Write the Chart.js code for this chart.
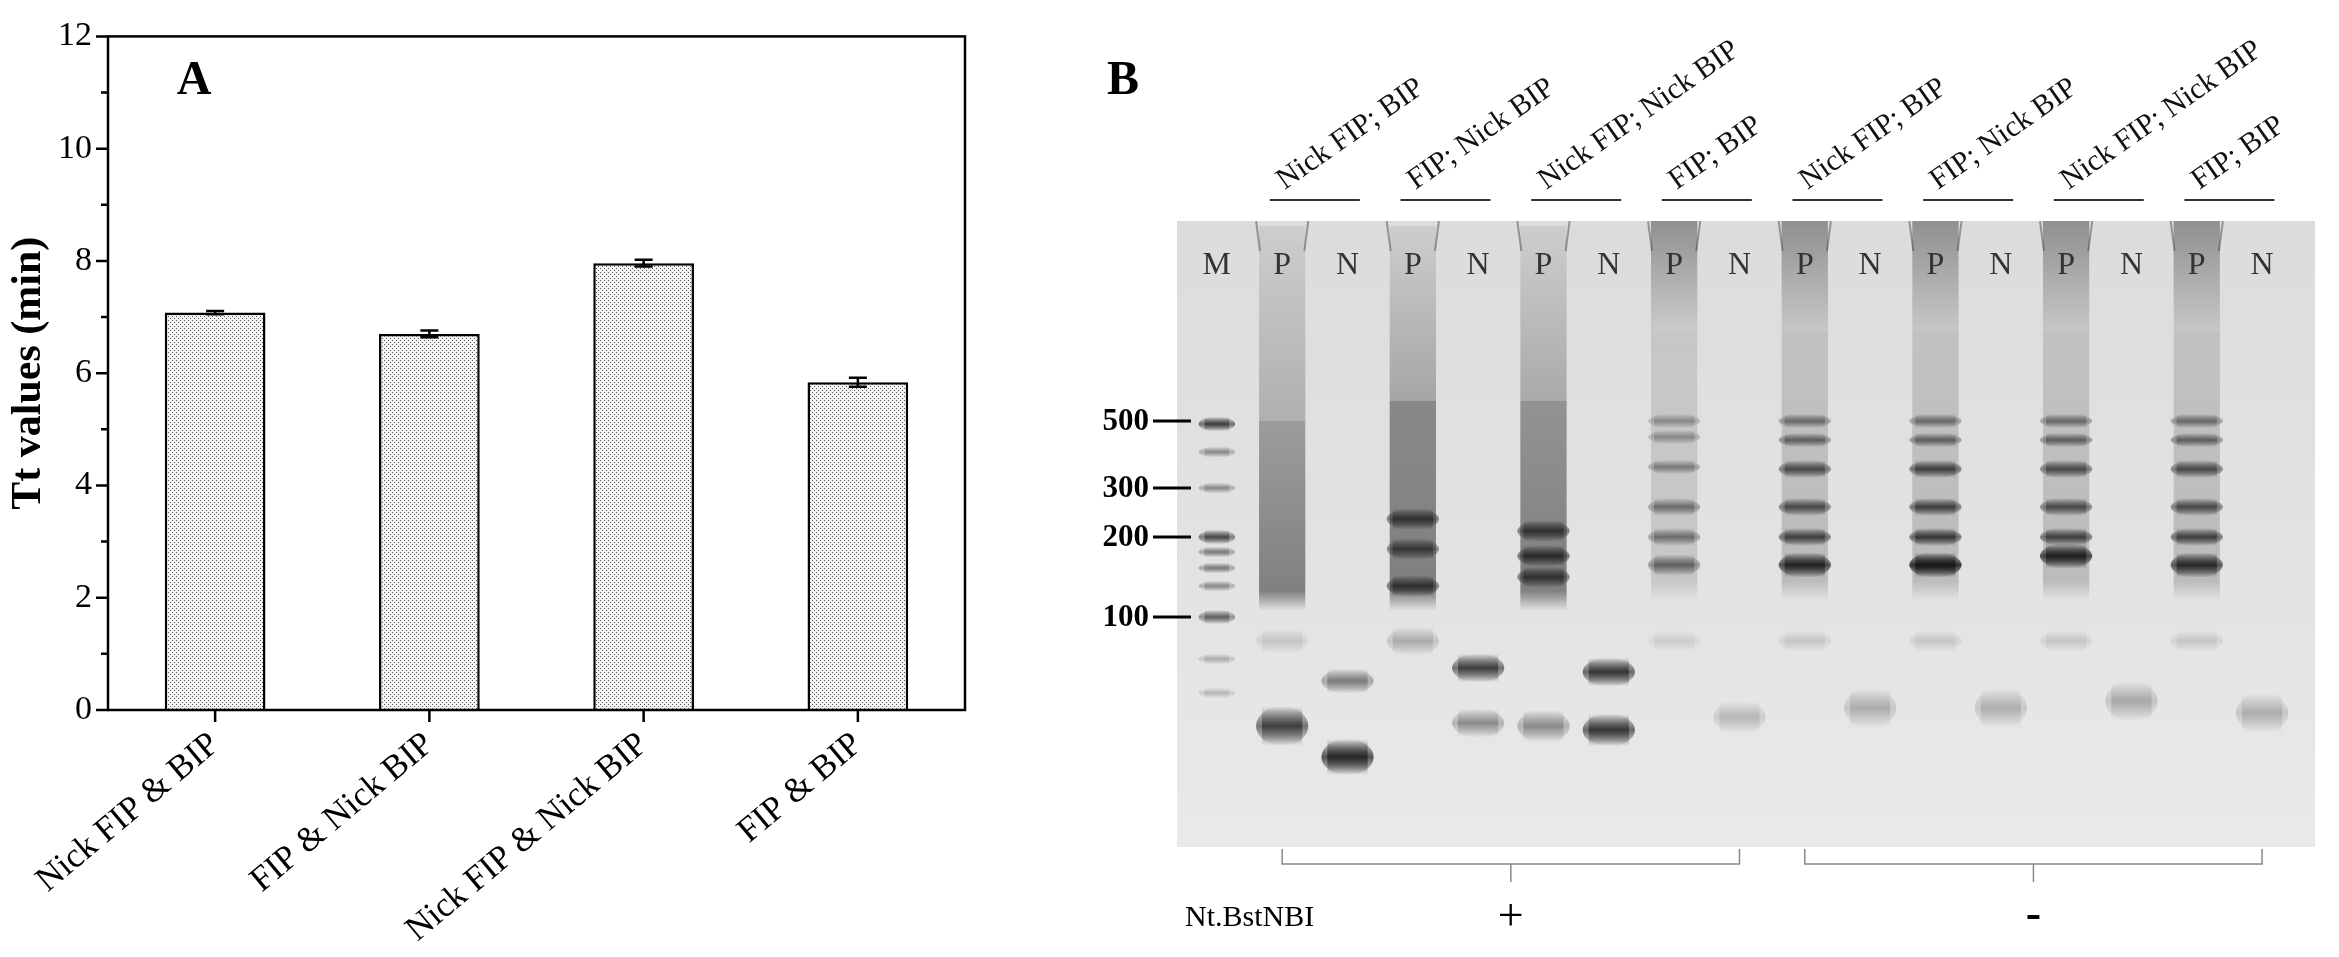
<!DOCTYPE html>
<html><head><meta charset="utf-8">
<script src="https://cdn.jsdelivr.net/npm/chart.js@4"></script>
<style>html,body{margin:0;padding:0;background:#fff;width:2339px;height:957px;overflow:hidden}
canvas{position:absolute}</style></head>
<body>
<div style="position:absolute;left:0;top:0;width:1100px;height:957px"><canvas id="a"></canvas></div>
<div style="position:absolute;left:1100px;top:0;width:1239px;height:957px"><canvas id="b"></canvas></div>
<script>
// ---- Panel A data ----
const categories = ["Nick FIP & BIP","FIP & Nick BIP","Nick FIP & Nick BIP","FIP & BIP"];
const ttValues = [7.08, 6.70, 7.96, 5.84];
const ttErrors = [0.03, 0.06, 0.06, 0.08];
const yTicks = [0,2,4,6,8,10,12];

// ---- Panel B data ----
const laneNames = ["M","P","N","P","N","P","N","P","N","P","N","P","N","P","N","P","N"];
const groupLabels = ["Nick FIP; BIP","FIP; Nick BIP","Nick FIP; Nick BIP","FIP; BIP","Nick FIP; BIP","FIP; Nick BIP","Nick FIP; Nick BIP","FIP; BIP"];
const markerSizes = ["500","300","200","100"];
const markerPos = [200, 267, 316, 396];
// smears: [lane, yStart, yEnd, alphaStart, alphaEnd]
const smears = [
 [1,5,200,0.08,0.25],[1,200,370,0.35,0.5],
 [3,5,180,0.08,0.3],[3,180,370,0.45,0.5],
 [5,5,180,0.08,0.28],[5,180,370,0.4,0.5],
 [7,0,110,0.4,0.1],[7,110,360,0.12,0.14],
 [9,0,110,0.4,0.12],[9,110,360,0.15,0.2],
 [11,0,110,0.4,0.12],[11,110,360,0.15,0.2],
 [13,0,110,0.4,0.12],[13,110,360,0.15,0.2],
 [15,0,110,0.4,0.12],[15,110,360,0.15,0.2]
];
// bands: [lane, y, alpha, thickness]
const bands = [
 [0,203,0.55,8],[0,231,0.25,6],[0,267,0.25,6],[0,316,0.5,8],[0,331,0.3,6],[0,347,0.3,6],[0,365,0.25,6],[0,396,0.4,8],[0,438,0.15,6],[0,472,0.12,6],
 [1,420,0.08,14],[1,505,0.55,22],
 [2,460,0.3,14],[2,536,0.7,20],
 [3,298,0.5,12],[3,328,0.45,12],[3,365,0.5,12],[3,420,0.15,16],
 [4,447,0.55,16],[4,502,0.25,16],
 [5,310,0.5,12],[5,335,0.55,12],[5,356,0.5,12],[5,505,0.25,18],
 [6,451,0.6,16],[6,509,0.6,18],
 [7,200,0.2,8],[7,216,0.2,8],[7,246,0.25,8],[7,286,0.3,10],[7,316,0.3,10],[7,344,0.35,12],[7,420,0.06,12],
 [8,496,0.12,18],
 [9,200,0.3,8],[9,219,0.35,8],[9,248,0.45,10],[9,286,0.45,10],[9,316,0.5,10],[9,344,0.7,14],[9,420,0.08,12],
 [10,487,0.15,22],
 [11,200,0.3,8],[11,219,0.35,8],[11,248,0.5,10],[11,286,0.5,10],[11,316,0.55,10],[11,344,0.85,14],[11,420,0.08,12],
 [12,487,0.14,22],
 [13,200,0.3,8],[13,219,0.35,8],[13,248,0.45,10],[13,286,0.45,10],[13,316,0.5,10],[13,335,0.75,14],[13,420,0.08,12],
 [14,480,0.16,22],
 [15,200,0.3,8],[15,219,0.35,8],[15,248,0.45,10],[15,286,0.45,10],[15,316,0.5,10],[15,344,0.65,14],[15,420,0.08,12],
 [16,492,0.15,22]
];

const serif = '"Times New Roman", "Liberation Serif", serif';

// dotted pattern
const pc = document.createElement('canvas'); pc.width = 4; pc.height = 4;
const px = pc.getContext('2d'); px.fillStyle = '#f4f4f4'; px.fillRect(0,0,4,4);
px.fillStyle = '#555'; px.fillRect(0,0,1,1); px.fillRect(2,2,1,1);
const pattern = px.createPattern(pc,'repeat');

const frameA = {
 id:'frameA',
 afterDatasetsDraw(c){
  const ctx=c.ctx, a=c.chartArea, y=c.scales.y, x=c.scales.x;
  ctx.save(); ctx.strokeStyle='#000'; ctx.lineWidth=2.5;
  ctx.strokeRect(a.left,a.top,a.right-a.left,a.bottom-a.top);
  ctx.beginPath();
  for(let v=0; v<=12; v++){const py=y.getPixelForValue(v); const L=v%2===0?12:7; ctx.moveTo(a.left,py); ctx.lineTo(a.left-L,py);}
  categories.forEach((_,i)=>{const p=x.getPixelForValue(i); ctx.moveTo(p,a.bottom); ctx.lineTo(p,a.bottom+12);});
  ctx.stroke();
  ctx.lineWidth=2.5;
  ttValues.forEach((v,i)=>{const p=x.getPixelForValue(i); const t=y.getPixelForValue(v+ttErrors[i]), b=y.getPixelForValue(v-ttErrors[i]);
   ctx.beginPath(); ctx.moveTo(p,t); ctx.lineTo(p,b); ctx.moveTo(p-9,t); ctx.lineTo(p+9,t); ctx.moveTo(p-9,b); ctx.lineTo(p+9,b); ctx.stroke();});
  ctx.fillStyle='#000'; ctx.font='bold 48px '+serif; ctx.textAlign='center'; ctx.textBaseline='middle';
  ctx.fillText('A',194,82);
  ctx.restore();
 }
};

new Chart(document.getElementById('a'),{
 type:'bar',
 data:{labels:categories,datasets:[{data:ttValues,backgroundColor:pattern,borderColor:'#000',borderWidth:2.5,barPercentage:0.47,categoryPercentage:1}]},
 options:{responsive:true,maintainAspectRatio:false,animation:false,
  layout:{padding:{left:4,right:135,top:32,bottom:0}},
  plugins:{legend:{display:false},tooltip:{enabled:false}},
  scales:{
   x:{grid:{display:false,drawTicks:false},border:{display:false},
      ticks:{color:'#000',font:{family:serif,size:35},maxRotation:40,minRotation:40,padding:14},
      afterFit(s){s.height=957-710;}},
   y:{min:0,max:12,afterBuildTicks(s){s.ticks=yTicks.map(v=>({value:v}));},
      grid:{display:false,drawTicks:false},border:{display:false},
      ticks:{color:'#000',font:{family:serif,size:34},padding:16},
      title:{display:true,text:'Tt values (min)',color:'#000',font:{family:serif,size:42,weight:'bold'},padding:0},
      afterFit(s){s.width=108-4;}}
  }},
 plugins:[frameA]
});

// ---- Panel B gel ----
function softRect(ctx,cx,w,p,t,al){
 const h=t*1.8;
 const g=ctx.createLinearGradient(0,p-h,0,p+h);
 g.addColorStop(0,'rgba(20,20,20,0)'); g.addColorStop(0.5,`rgba(20,20,20,${al})`); g.addColorStop(1,'rgba(20,20,20,0)');
 ctx.fillStyle=g;
 ctx.beginPath(); ctx.ellipse(cx,p,w/2,h,0,0,Math.PI*2); ctx.fill();
 ctx.fillRect(cx-w/2+6,p-h,w-12,2*h);
}
const gel = {
 id:'gel',
 beforeDatasetsDraw(c){
  const ctx=c.ctx, a=c.chartArea, x=c.scales.x, y=c.scales.y;
  const W=a.right-a.left, H=a.bottom-a.top;
  ctx.save();
  const bg=ctx.createLinearGradient(0,a.top,0,a.bottom);
  bg.addColorStop(0,'#dcdcdc'); bg.addColorStop(0.5,'#e2e2e2'); bg.addColorStop(1,'#e9e9e9');
  ctx.fillStyle=bg; ctx.fillRect(a.left,a.top,W,H);
  const lw=Math.abs(x.getPixelForValue(1)-x.getPixelForValue(0))*0.8;
  ctx.beginPath(); ctx.rect(a.left,a.top,W,H); ctx.clip();
  smears.forEach(([l,y0,y1,a0,a1])=>{
   const cx=x.getPixelForValue(l), p0=y.getPixelForValue(y0), p1=y.getPixelForValue(y1);
   const g=ctx.createLinearGradient(0,p0,0,p1+20);
   g.addColorStop(0,`rgba(30,30,30,${a0})`); g.addColorStop(p1-p0>0?(p1-p0)/(p1-p0+20):1,`rgba(30,30,30,${a1})`); g.addColorStop(1,'rgba(30,30,30,0)');
   const hg=ctx.createLinearGradient(cx-lw/2,0,cx+lw/2,0);
   ctx.globalAlpha=1; ctx.fillStyle=g;
   ctx.fillRect(cx-lw/2+3,p0,lw-6,p1-p0+(y1>=300?20:0));
  });
  bands.forEach(([l,v,al,t])=>{
   const cx=x.getPixelForValue(l), p=y.getPixelForValue(v);
   const w=l===0?lw*0.7:lw;
   softRect(ctx,cx,w,p,t/2,al);
  });
  // wells
  ctx.strokeStyle='rgba(60,60,60,0.45)'; ctx.lineWidth=2;
  laneNames.forEach((n,i)=>{ if(n!=='P')return; const cx=x.getPixelForValue(i);
   ctx.beginPath(); ctx.moveTo(cx-lw/2,a.top); ctx.lineTo(cx-lw/2+4,a.top+30); ctx.moveTo(cx+lw/2,a.top); ctx.lineTo(cx+lw/2-4,a.top+30); ctx.stroke();});
  ctx.restore();

  ctx.save(); ctx.fillStyle='#333'; ctx.font='32px '+serif; ctx.textAlign='center'; ctx.textBaseline='middle';
  laneNames.forEach((n,i)=>ctx.fillText(n,x.getPixelForValue(i),a.top+45));
  ctx.fillStyle='#000'; ctx.strokeStyle='#000'; ctx.lineWidth=3; ctx.font='bold 31px '+serif; ctx.textAlign='right';
  markerSizes.forEach((s,i)=>{const p=y.getPixelForValue(markerPos[i]); ctx.fillText(s,a.left-28,p+1);
   ctx.beginPath(); ctx.moveTo(a.left-24,p); ctx.lineTo(a.left+14,p); ctx.stroke();});
  ctx.lineWidth=2; ctx.strokeStyle='#333'; ctx.fillStyle='#111'; ctx.font='30px '+serif; ctx.textAlign='left'; ctx.textBaseline='alphabetic';
  groupLabels.forEach((g,i)=>{
   const cx=(x.getPixelForValue(2*i+1)+x.getPixelForValue(2*i+2))/2;
   ctx.beginPath(); ctx.moveTo(cx-45,200); ctx.lineTo(cx+45,200); ctx.stroke();
   ctx.save(); ctx.translate(cx-30,190); ctx.rotate(-35*Math.PI/180); ctx.fillText(g,0,0); ctx.restore();
  });
  ctx.strokeStyle='#888'; ctx.lineWidth=1.5;
  [[1,8],[9,16]].forEach(([s,e])=>{const l=x.getPixelForValue(s), r=x.getPixelForValue(e), m=(l+r)/2;
   ctx.beginPath(); ctx.moveTo(l,849); ctx.lineTo(l,864); ctx.lineTo(r,864); ctx.lineTo(r,849); ctx.moveTo(m,864); ctx.lineTo(m,882); ctx.stroke();});
  ctx.fillStyle='#000'; ctx.font='30px '+serif; ctx.textBaseline='middle'; ctx.textAlign='left';
  ctx.fillText('Nt.BstNBI',85,918);
  ctx.font='46px '+serif; ctx.textAlign='center';
  ctx.fillText('+',(x.getPixelForValue(1)+x.getPixelForValue(8))/2,918);
  ctx.font='bold 46px '+serif;
  ctx.fillText('-',(x.getPixelForValue(9)+x.getPixelForValue(16))/2,916);
  ctx.font='bold 48px '+serif;
  ctx.fillText('B',23,82);
  ctx.restore();
 }
};

new Chart(document.getElementById('b'),{
 type:'scatter',
 data:{datasets:[{data:[],pointRadius:0}]},
 options:{responsive:true,maintainAspectRatio:false,animation:false,
  layout:{padding:{left:77,right:1239-1215,top:221,bottom:957-847}},
  plugins:{legend:{display:false},tooltip:{enabled:false}},
  scales:{x:{type:'linear',min:-0.61,max:16.81,display:false},
          y:{type:'linear',min:0,max:626,reverse:true,display:false}}},
 plugins:[gel]
});
</script>
</body></html>
